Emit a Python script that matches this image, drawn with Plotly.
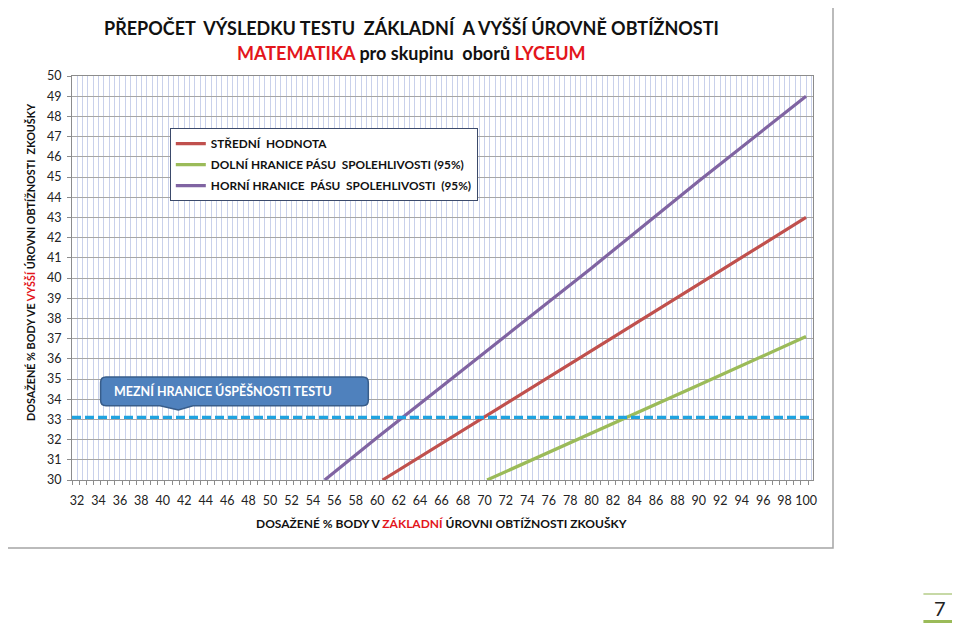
import plotly.graph_objects as go

# === data ===
red_x = [60.5, 70, 80, 90, 100]
red_y = [30.0, 33.1, 36.4, 39.7, 43.0]
green_x = [70.25, 80, 90, 100]
green_y = [30.0, 32.3, 34.7, 37.1]
purple_x = [55.1, 60, 70, 80, 90, 100]
purple_y = [30.0, 32.1, 36.3, 40.5, 44.8, 49.0]
threshold = 33.1

x_ticks = list(range(32, 101, 2))
y_ticks = list(range(30, 51))

names = [
    "<b>STŘEDNÍ  HODNOTA</b>",
    "<b>DOLNÍ HRANICE PÁSU  SPOLEHLIVOSTI (95%)</b>",
    "<b>HORNÍ HRANICE  PÁSU  SPOLEHLIVOSTI  (95%)</b>",
]
colors = ["#c0504d", "#9bbb59", "#8064a2"]

FONT = "Lato"
RED = "#e3161b"
X0, X1 = 31.53, 100.65

fig = go.Figure()

for i, (xs, ys) in enumerate([(red_x, red_y), (green_x, green_y), (purple_x, purple_y)]):
    fig.add_trace(go.Scatter(
        x=xs, y=ys, mode="lines", name=names[i], legendgroup=str(i),
        line=dict(color=colors[i], width=3.2),
    ))

# empty trace so the tick-only axis gets drawn
fig.add_trace(go.Scatter(x=[], y=[], xaxis="x2", showlegend=False, hoverinfo="skip"))

fig.add_hline(y=threshold, line=dict(color="#1fa3e0", width=3.2, dash="9px,4px"), layer="above")

# callout box
L, R, T, B = 34.2, 59.17, 35.1, 33.68
rx, ry = 0.5, 0.27
path = (f"M {L+rx},{T} L {R-rx},{T} Q {R},{T} {R},{T-ry} L {R},{B+ry} Q {R},{B} {R-rx},{B} "
        f"L 42.82,{B} L 41.45,33.47 L 39.74,{B} L {L+rx},{B} Q {L},{B} {L},{B+ry} "
        f"L {L},{T-ry} Q {L},{T} {L+rx},{T} Z")
fig.add_shape(type="path", path=path, xref="x", yref="y",
              fillcolor="#4f81bd", line=dict(color="#385d8a", width=1.5), layer="above")
fig.add_annotation(x=45.6, y=34.4, xref="x", yref="y", showarrow=False,
                   text="<b>MEZNÍ HRANICE ÚSPĚŠNOSTI TESTU</b>",
                   font=dict(family=FONT, size=12.5, color="white"))

# outer frame
fig.add_shape(type="rect", xref="paper", yref="paper", x0=-0.0931, x1=1.027, y0=-0.1683, y1=1.1807,
              line=dict(color="#a5a5a5", width=1.5), layer="below")

# titles
common = dict(xref="paper", yref="paper", showarrow=False, xanchor="center", yanchor="middle")
fig.add_annotation(x=0.4575, y=1.1188, **common,
                   text="<b>PŘEPOČET  VÝSLEDKU TESTU  ZÁKLADNÍ  A VYŠŠÍ ÚROVNĚ OBTÍŽNOSTI</b>",
                   font=dict(family=FONT, size=18, color="#111111"))
fig.add_annotation(x=0.4575, y=1.057, **common,
                   text=f"<b><span style='color:{RED}'>MATEMATIKA</span> pro skupinu  oborů "
                        f"<span style='color:{RED}'>LYCEUM</span></b>",
                   font=dict(family=FONT, size=18, color="#111111"))
fig.add_annotation(x=-0.0567, y=0.5396, textangle=-90, **common,
                   text=f"<b>DOSAŽENÉ % BODY VE <span style='color:{RED}'>VYŠŠÍ</span> ÚROVNI OBTÍŽNOSTI  ZKOUŠKY</b>",
                   font=dict(family=FONT, size=10.8, color="#111111"))
fig.add_annotation(x=0.4993, y=-0.1089, **common,
                   text=f"<b>DOSAŽENÉ % BODY V <span style='color:{RED}'>ZÁKLADNÍ</span> ÚROVNI OBTÍŽNOSTI ZKOUŠKY</b>",
                   font=dict(family=FONT, size=12, color="#111111"))

# page number
fig.add_shape(type="line", xref="paper", yref="paper", x0=1.149, x1=1.195, y0=-0.282, y1=-0.282,
              line=dict(color="#b5cc88", width=1.5))
fig.add_shape(type="line", xref="paper", yref="paper", x0=1.149, x1=1.195, y0=-0.354, y1=-0.354,
              line=dict(color="#9bbb59", width=6))
fig.add_annotation(x=1.1714, y=-0.3168, **common, text="7",
                   font=dict(family=FONT, size=20, color="#222222"))

fig.update_layout(
    width=944, height=615,
    margin=dict(l=64, r=139, t=68, b=143, autoexpand=False),
    plot_bgcolor="white", paper_bgcolor="white",
    font=dict(family=FONT, size=12.5, color="#222222"),
    showlegend=True,
    legend=dict(
        x=0.132, y=0.871, xanchor="left", yanchor="top",
        bgcolor="white", bordercolor="#3b4a6b", borderwidth=1,
        font=dict(family=FONT, size=11.8, color="#111111"),
        tracegroupgap=2, itemwidth=30,
    ),
    xaxis=dict(
        range=[X0, X1], tickvals=x_ticks, ticktext=[str(v) for v in x_ticks],
        showgrid=True, gridcolor="#c9d1eb", gridwidth=1, ticks="",
        ticklabelstandoff=9,
        minor=dict(dtick=0.5, tick0=31.5, showgrid=True, gridcolor="#c9d1eb", gridwidth=1),
        showline=True, linecolor="#8c8c8c", linewidth=1, mirror=True,
        zeroline=False, tickfont=dict(size=12.5),
    ),
    xaxis2=dict(
        range=[X0, X1], overlaying="x", side="bottom", showticklabels=False,
        showgrid=False, zeroline=False, ticks="outside", ticklen=4, tickcolor="#8c8c8c",
        tick0=X0, dtick=2 / 3,
    ),
    yaxis=dict(
        range=[30, 50], tickvals=y_ticks, showgrid=True, gridcolor="#a6a6a6", gridwidth=1,
        ticks="outside", ticklen=4, tickcolor="#8c8c8c", ticklabelstandoff=3,
        showline=True, linecolor="#8c8c8c", linewidth=1, mirror=True,
        zeroline=False, tickfont=dict(size=12.5),
    ),
)

fig.write_html("out.html")
